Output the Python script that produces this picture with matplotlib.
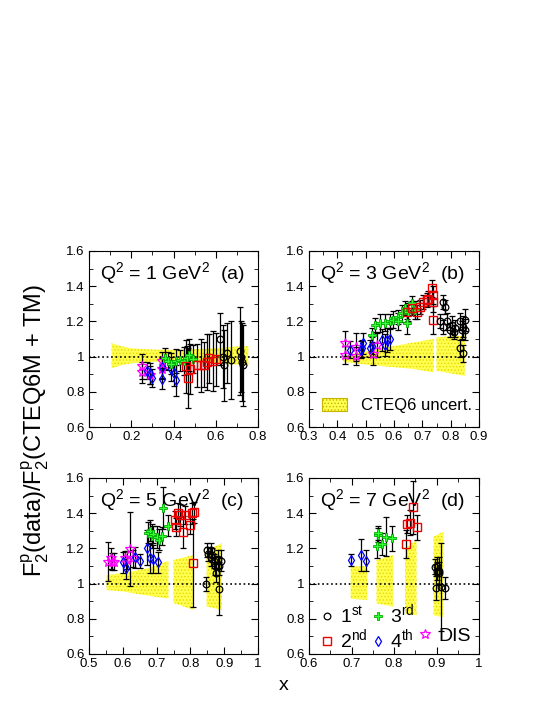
import matplotlib
matplotlib.use('Agg')
import matplotlib.pyplot as plt
import matplotlib.ticker as ticker
from matplotlib.patches import Patch
from matplotlib.lines import Line2D
import numpy as np

plt.rcParams['font.family'] = ['Liberation Sans', 'DejaVu Sans']
plt.rcParams['mathtext.fontset'] = 'custom'
plt.rcParams['mathtext.rm'] = 'Liberation Sans'
plt.rcParams['mathtext.it'] = 'Liberation Sans:italic'
plt.rcParams['hatch.linewidth'] = 0.6

# ---------------- data ----------------
# panel (a) Q2 = 1
a_1st_x = [0.62, 0.635, 0.64, 0.655, 0.67, 0.715, 0.72, 0.725, 0.73]
a_1st_y = [1.10, 1.00, 0.95, 1.02, 0.98, 1.03, 1.00, 0.97, 0.95]
a_1st_e = [0.15, 0.18, 0.20, 0.17, 0.22, 0.25, 0.20, 0.22, 0.23]
a_2nd_x = [0.46, 0.47, 0.48, 0.51, 0.53, 0.545, 0.56, 0.57, 0.585, 0.60]
a_2nd_y = [0.945, 0.88, 0.93, 0.95, 0.95, 0.955, 0.97, 0.99, 0.975, 0.985]
a_2nd_e = [0.15, 0.17, 0.14, 0.12, 0.15, 0.13, 0.16, 0.14, 0.17, 0.15]
a_3rd_x = [0.36, 0.375, 0.39, 0.41, 0.43, 0.45, 0.465, 0.475, 0.49]
a_3rd_y = [0.99, 0.975, 0.96, 0.975, 0.98, 0.975, 0.99, 1.01, 0.985]
a_3rd_e = [0.06, 0.05, 0.06, 0.07, 0.06, 0.08, 0.07, 0.09, 0.08]
a_4th_x = [0.275, 0.29, 0.30, 0.344, 0.344, 0.39, 0.40, 0.41]
a_4th_y = [0.92, 0.905, 0.88, 0.94, 0.875, 0.93, 0.905, 0.865]
a_4th_e = [0.05, 0.06, 0.05, 0.06, 0.06, 0.07, 0.07, 0.09]
a_dis_x = [0.25, 0.25, 0.29, 0.345, 0.345]
a_dis_y = [0.945, 0.91, 0.895, 0.93, 0.975]
a_dis_e = [0.07, 0.06, 0.05, 0.06, 0.05]
band_a_x = [0.107, 0.15, 0.2, 0.3, 0.4, 0.5, 0.6, 0.7, 0.754]
band_a_lo = [0.934, 0.95, 0.962, 0.970, 0.972, 0.968, 0.962, 0.955, 0.950]
band_a_hi = [1.076, 1.06, 1.047, 1.040, 1.038, 1.042, 1.048, 1.057, 1.060]

# panel (b) Q2 = 3
b_1st_x = [0.774, 0.78, 0.762, 0.774, 0.786, 0.798, 0.804, 0.81, 0.815, 0.833, 0.839, 0.845, 0.85, 0.833, 0.845, 0.85]
b_1st_y = [1.312, 1.284, 1.20, 1.17, 1.20, 1.15, 1.18, 1.142, 1.16, 1.20, 1.152, 1.17, 1.208, 1.047, 1.018, 1.152]
b_1st_e = [0.04, 0.04, 0.04, 0.04, 0.05, 0.04, 0.05, 0.04, 0.05, 0.05, 0.05, 0.06, 0.06, 0.05, 0.05, 0.06]
b_2nd_x = [0.645, 0.662, 0.68, 0.692, 0.704, 0.715, 0.721, 0.733, 0.739, 0.736, 0.736]
b_2nd_y = [1.255, 1.274, 1.255, 1.284, 1.312, 1.32, 1.33, 1.388, 1.35, 1.312, 1.208]
b_2nd_e = [0.04, 0.04, 0.04, 0.04, 0.04, 0.04, 0.04, 0.05, 0.05, 0.06, 0.08]
b_3rd_x = [0.521, 0.533, 0.551, 0.568, 0.586, 0.598, 0.615, 0.627, 0.639, 0.651, 0.662, 0.674, 0.645, 0.615]
b_3rd_y = [1.123, 1.18, 1.19, 1.193, 1.20, 1.21, 1.227, 1.246, 1.274, 1.255, 1.303, 1.265, 1.19, 1.20]
b_3rd_e = [0.04, 0.04, 0.05, 0.05, 0.04, 0.05, 0.04, 0.05, 0.04, 0.05, 0.04, 0.05, 0.06, 0.05]
b_4th_x = [0.445, 0.486, 0.492, 0.482, 0.515, 0.521, 0.556, 0.574, 0.586, 0.568]
b_4th_y = [1.04, 1.047, 1.075, 1.04, 1.047, 1.062, 1.094, 1.094, 1.098, 1.066]
b_4th_e = [0.05, 0.05, 0.06, 0.05, 0.05, 0.05, 0.06, 0.07, 0.06, 0.06]
b_dis_x = [0.427, 0.427, 0.466, 0.466, 0.539, 0.527]
b_dis_y = [1.075, 1.01, 1.053, 1.003, 1.066, 1.015]
b_dis_e = [0.07, 0.05, 0.08, 0.05, 0.07, 0.06]
band_b = [(0.42, 0.50, 0.97, 0.955, 1.00, 1.03),
          (0.50, 0.60, 0.955, 0.94, 1.03, 1.06),
          (0.60, 0.668, 0.94, 0.93, 1.06, 1.08),
          (0.668, 0.74, 0.93, 0.91, 1.08, 1.10),
          (0.75, 0.85, 0.92, 0.89, 1.11, 1.12)]

# panel (c) Q2 = 5
c_1st_x = [0.848, 0.852, 0.86, 0.862, 0.865, 0.87, 0.873, 0.876, 0.882, 0.885, 0.89, 0.845, 0.884]
c_1st_y = [1.19, 1.17, 1.19, 1.15, 1.165, 1.13, 1.10, 1.06, 1.14, 1.10, 1.13, 1.00, 0.97]
c_1st_e = [0.04, 0.04, 0.04, 0.05, 0.04, 0.04, 0.05, 0.05, 0.05, 0.05, 0.06, 0.04, 0.15]
c_2nd_x = [0.754, 0.757, 0.764, 0.769, 0.779, 0.784, 0.799, 0.804, 0.807, 0.811]
c_2nd_y = [1.36, 1.32, 1.40, 1.39, 1.295, 1.39, 1.333, 1.40, 1.115, 1.405]
c_2nd_e = [0.05, 0.05, 0.06, 0.06, 0.09, 0.05, 0.05, 0.06, 0.25, 0.06]
c_3rd_x = [0.675, 0.68, 0.685, 0.69, 0.70, 0.707, 0.715, 0.72, 0.735]
c_3rd_y = [1.29, 1.30, 1.27, 1.28, 1.265, 1.25, 1.27, 1.43, 1.33]
c_3rd_e = [0.06, 0.06, 0.07, 0.05, 0.06, 0.06, 0.05, 0.12, 0.06]
c_4th_x = [0.602, 0.61, 0.636, 0.651, 0.672, 0.68, 0.688, 0.703]
c_4th_y = [1.12, 1.087, 1.15, 1.13, 1.204, 1.143, 1.138, 1.12]
c_4th_e = [0.06, 0.06, 0.06, 0.04, 0.10, 0.08, 0.08, 0.06]
c_dis_x = [0.557, 0.564, 0.567, 0.575, 0.606, 0.611, 0.621, 0.631]
c_dis_y = [1.125, 1.143, 1.125, 1.125, 1.143, 1.134, 1.195, 1.143]
c_dis_e = [0.11, 0.06, 0.05, 0.05, 0.04, 0.05, 0.21, 0.05]
band_c = [(0.552, 0.602, 0.964, 0.955, 1.049, 1.06),
          (0.602, 0.631, 0.955, 0.945, 1.06, 1.07),
          (0.631, 0.680, 0.945, 0.93, 1.07, 1.09),
          (0.680, 0.735, 0.93, 0.915, 1.09, 1.13),
          (0.75, 0.81, 0.89, 0.85, 1.134, 1.163),
          (0.848, 0.893, 0.87, 0.85, 1.19, 1.229)]

# panel (d) Q2 = 7
d_1st_x = [0.896, 0.90, 0.902, 0.905, 0.898, 0.91, 0.92, 0.907]
d_1st_y = [1.097, 1.07, 1.10, 1.06, 0.975, 0.98, 0.975, 1.07]
d_1st_e = [0.04, 0.05, 0.05, 0.06, 0.07, 0.25, 0.06, 0.08]
d_2nd_x = [0.828, 0.83, 0.838, 0.844, 0.853]
d_2nd_y = [1.225, 1.339, 1.346, 1.433, 1.32]
d_2nd_e = [0.08, 0.05, 0.07, 0.15, 0.07]
d_3rd_x = [0.762, 0.763, 0.761, 0.771, 0.781, 0.796]
d_3rd_y = [1.276, 1.285, 1.214, 1.225, 1.267, 1.257]
d_3rd_e = [0.04, 0.04, 0.07, 0.06, 0.11, 0.07]
d_4th_x = [0.699, 0.722, 0.734]
d_4th_y = [1.134, 1.163, 1.13]
d_4th_e = [0.035, 0.09, 0.06]
band_d = [(0.698, 0.737, 0.914, 0.907, 1.096, 1.10),
          (0.759, 0.798, 0.888, 0.869, 1.134, 1.163),
          (0.826, 0.853, 0.83, 0.82, 1.20, 1.248),
          (0.893, 0.916, 0.82, 0.81, 1.267, 1.295)]

# ---------------- styles ----------------
styles = {
    '1st': dict(marker='o', ms=4.8, mfc='none', mec='black', mew=0.9),
    '2nd': dict(marker='s', ms=5.2, mfc='none', mec='#ee0000', mew=1.0),
    '3rd': dict(marker='P', ms=6, mfc='#33ff33', mec='#00aa00', mew=0.6),
    '4th': dict(marker='d', ms=5, mfc='none', mec='#0000ff', mew=0.9),
    'DIS': dict(marker='*', ms=7, mfc='none', mec='#ff00ff', mew=0.9),
}
band_style = dict(facecolor='#ffff50', edgecolor='#e8d400', hatch='.....', linewidth=0)

fig = plt.figure(figsize=(5.45, 7.05), dpi=100)
W, H = 545.0, 705.0
boxes = {
    'a': [89 / W, 1 - 427 / H, 169 / W, 176 / H],
    'b': [309 / W, 1 - 427 / H, 170 / W, 176 / H],
    'c': [89 / W, 1 - 654 / H, 169 / W, 176 / H],
    'd': [309 / W, 1 - 654 / H, 170 / W, 176 / H],
}


def setup(ax, xlim, xmaj, xmin, label):
    ax.set_xlim(*xlim)
    ax.set_ylim(0.6, 1.6)
    ax.xaxis.set_major_locator(ticker.MultipleLocator(xmaj))
    ax.xaxis.set_minor_locator(ticker.MultipleLocator(xmin))
    ax.yaxis.set_major_locator(ticker.MultipleLocator(0.2))
    ax.yaxis.set_minor_locator(ticker.MultipleLocator(0.1))
    ax.xaxis.set_major_formatter(ticker.FuncFormatter(lambda v, p: '%g' % round(v, 2)))
    ax.yaxis.set_major_formatter(ticker.FuncFormatter(lambda v, p: '%g' % round(v, 2)))
    ax.tick_params(which='both', direction='in', top=True, right=True, labelsize=9.5, pad=3)
    ax.tick_params(which='major', length=5)
    ax.tick_params(which='minor', length=3)
    ax.axhline(1.0, color='black', ls=':', lw=1.2, zorder=2)
    ax.text(0.065, 0.875, label, transform=ax.transAxes, fontsize=14, va='center')


def series(ax, x, y, e, key):
    ax.errorbar(x, y, yerr=e, fmt='none', ecolor='black', elinewidth=0.9,
                capsize=2.5, capthick=0.9, zorder=3)
    ax.plot(x, y, ls='none', zorder=4, **styles[key])


def band_segments(ax, segs):
    for x0, x1, lo0, lo1, hi0, hi1 in segs:
        ax.fill_between([x0, x1], [lo0, lo1], [hi0, hi1], zorder=1, **band_style)


# (a)
ax = fig.add_axes(boxes['a'])
setup(ax, (0, 0.8), 0.2, 0.1, 'Q$^{2}$ = 1 GeV$^{2}$  (a)')
ax.fill_between(band_a_x, band_a_lo, band_a_hi, zorder=1, **band_style)
series(ax, a_dis_x, a_dis_y, a_dis_e, 'DIS')
series(ax, a_4th_x, a_4th_y, a_4th_e, '4th')
series(ax, a_3rd_x, a_3rd_y, a_3rd_e, '3rd')
series(ax, a_2nd_x, a_2nd_y, a_2nd_e, '2nd')
series(ax, a_1st_x, a_1st_y, a_1st_e, '1st')

# (b)
ax = fig.add_axes(boxes['b'])
setup(ax, (0.3, 0.9), 0.1, 0.05, 'Q$^{2}$ = 3 GeV$^{2}$  (b)')
band_segments(ax, band_b)
series(ax, b_dis_x, b_dis_y, b_dis_e, 'DIS')
series(ax, b_4th_x, b_4th_y, b_4th_e, '4th')
series(ax, b_3rd_x, b_3rd_y, b_3rd_e, '3rd')
series(ax, b_2nd_x, b_2nd_y, b_2nd_e, '2nd')
series(ax, b_1st_x, b_1st_y, b_1st_e, '1st')
ax.legend([Patch(facecolor='#ffff50', edgecolor='#c8b400', hatch='.....', lw=0.8)],
          ['CTEQ6 uncert.'], loc='lower left', frameon=False, fontsize=12,
          handlelength=1.5, handleheight=0.8, handletextpad=0.8,
          bbox_to_anchor=(0.04, 0.04), borderaxespad=0.0)

# (c)
ax = fig.add_axes(boxes['c'])
setup(ax, (0.5, 1.0), 0.1, 0.05, 'Q$^{2}$ = 5 GeV$^{2}$  (c)')
band_segments(ax, band_c)
series(ax, c_dis_x, c_dis_y, c_dis_e, 'DIS')
series(ax, c_4th_x, c_4th_y, c_4th_e, '4th')
series(ax, c_3rd_x, c_3rd_y, c_3rd_e, '3rd')
series(ax, c_2nd_x, c_2nd_y, c_2nd_e, '2nd')
series(ax, c_1st_x, c_1st_y, c_1st_e, '1st')

# (d)
ax = fig.add_axes(boxes['d'])
setup(ax, (0.6, 1.0), 0.1, 0.05, 'Q$^{2}$ = 7 GeV$^{2}$  (d)')
band_segments(ax, band_d)
series(ax, d_4th_x, d_4th_y, d_4th_e, '4th')
series(ax, d_3rd_x, d_3rd_y, d_3rd_e, '3rd')
series(ax, d_2nd_x, d_2nd_y, d_2nd_e, '2nd')
series(ax, d_1st_x, d_1st_y, d_1st_e, '1st')

leg_keys = ['1st', '2nd', '3rd', '4th', None, 'DIS']
leg_labels = ['1$^{\\rm st}$', '2$^{\\rm nd}$', '3$^{\\rm rd}$', '4$^{\\rm th}$', '', 'DIS']
handles = []
for k in leg_keys:
    if k is None:
        handles.append(Line2D([], [], ls='none', marker=None))
    else:
        handles.append(Line2D([], [], ls='none', **styles[k]))
ax.legend(handles, leg_labels, ncol=3, loc='lower left', frameon=False, fontsize=14,
          handlelength=0.8, handletextpad=0.25, columnspacing=0.15, labelspacing=0.05,
          bbox_to_anchor=(0.06, 0.015), borderaxespad=0.0, borderpad=0.0)

fig.text(0.064, 0.39, 'F$_2^{\\rm p}$(data)/F$_2^{\\rm p}$(CTEQ6M + TM)', rotation=90,
         fontsize=17, ha='center', va='center')
fig.text(0.521, 0.028, 'x', fontsize=14, ha='center', va='center')

fig.savefig('out.png', dpi=100)
